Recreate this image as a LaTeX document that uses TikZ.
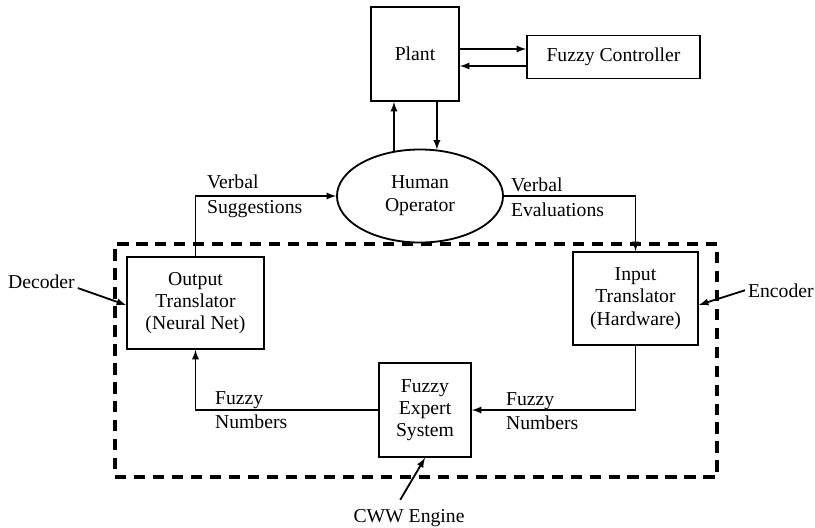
\documentclass[tikz,border=0pt]{standalone}
\usepackage{fontspec}
\setmainfont{Liberation Serif}
\usetikzlibrary{shapes.geometric}

\tikzstyle{block} = [rectangle, text centered, align=center, draw=black, line width=1.3pt, inner sep=2pt]
\tikzstyle{oval} = [ellipse, text centered, align=center, draw=black, line width=1.3pt, inner sep=0pt]
\tikzstyle{engine} = [rectangle, draw=black, line width=2.4pt, dash pattern=on 8pt off 5.5pt]
\tikzstyle{comment} = [align=left, inner sep=2pt]
\tikzstyle{arrow} = [line width=1.3pt,->,>=latex]

\begin{document}
\begin{tikzpicture}[x=0.025cm, y=-0.025cm, every node/.style={font=\fontsize{14}{15.8}\selectfont}]
			\useasboundingbox (0,0) rectangle (815,527);
			\node (cww) [engine, minimum width=15.05cm, minimum height=5.825cm] at (416,360.5) {};
			\node (plant) [block, minimum width=2.2cm, minimum height=2.35cm] at (415,54) {Plant};
			\node (fc) [block, minimum width=4.325cm, minimum height=1.075cm] at (613.5,57) {Fuzzy Controller};
			\node (op) [oval, minimum width=4.15cm, minimum height=2.325cm] at (420,196) {Human\\[0.5pt]Operator};
			\node (out) [block, minimum width=3.425cm, minimum height=2.3cm] at (195.5,303) {Output\\Translator\\(Neural Net)};
			\node (in) [block, minimum width=3.125cm, minimum height=2.325cm] at (635.5,298.5) {Input\\Translator\\(Hardware)};
			\node (fes) [block, minimum width=2.3cm, minimum height=2.35cm] at (425,410) {Fuzzy\\Expert\\System};
			\node (sugg) [comment, anchor=west] at (204,196) {Verbal\\[2pt]Suggestions};
			\node (eval) [comment, anchor=west] at (508,197) {Verbal\\[2pt]Evaluations};
			\node (numLeft) [comment, anchor=west] at (212,410) {Fuzzy\\[1.2pt]Numbers};
			\node (numRight) [comment, anchor=west] at (503,411) {Fuzzy\\[1.2pt]Numbers};
			\node (dec) [comment, anchor=base west] at (5,288) {Decoder};
			\node (enc) [comment, anchor=base west] at (745,297) {Encoder};
			\node (cwwLabel) [comment, anchor=base] at (409,522) {CWW Engine};

			\draw [arrow] ([yshift=0.2cm]fc.west -| plant.east) -- ([yshift=0.2cm]fc.west);
			\draw [arrow] ([yshift=-0.225cm]fc.west) -- ([yshift=-0.225cm]fc.west -| plant.east);
			\draw [arrow] (op.120) -- (op.120 |- plant.south);
			\draw [arrow] (plant.south -| op.70) -- (op.70);
			\draw [arrow] (out.north) |- (op.west);
			\draw [arrow] (op.east) -| (in.north);
			\draw [arrow] (in.south) |- (fes.east);
			\draw [arrow] (fes.west) -| (out.south);
			\draw [arrow] ([yshift=-0.17cm]dec.east) -- ([yshift=-0.05cm]out.west);
			\draw [arrow] (enc.west) -- ([yshift=-0.16cm]in.east);
			\draw [arrow] ([xshift=-0.22cm, yshift=0.15cm]cwwLabel.north) -- (fes.south);
\end{tikzpicture}
\end{document}
